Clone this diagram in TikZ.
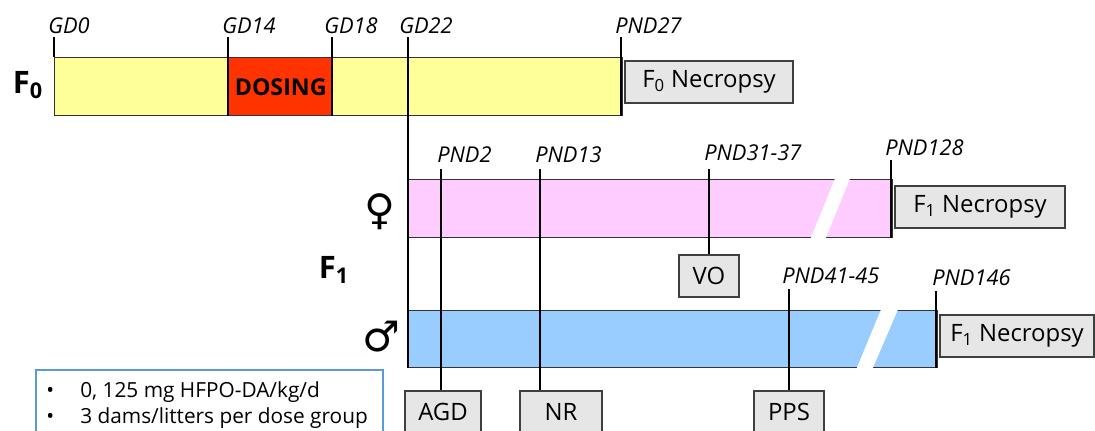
\documentclass[tikz,border=0pt]{standalone}
\usepackage{fontspec}
\setmainfont{Open Sans}
\newfontfamily\symfont{DejaVu Sans}
\usetikzlibrary{positioning}
\definecolor{fyellow}{RGB}{255,255,153}
\definecolor{dosered}{RGB}{255,51,0}
\definecolor{fpink}{RGB}{255,204,255}
\definecolor{fblue}{RGB}{153,204,255}
\definecolor{boxgray}{RGB}{231,230,230}
\definecolor{legendblue}{RGB}{91,155,213}

\begin{document}
\begin{tikzpicture}[x=0.025cm, y=-0.025cm,
        daylabel/.style={font=\fontsize{15.5}{18}\selectfont\itshape, anchor=base west, inner sep=0pt},
        gen/.style={font=\fontsize{22}{26}\selectfont\bfseries, inner sep=0pt},
        bar/.style={draw=black!80, line width=1pt, anchor=north west, minimum height=1.45cm, inner sep=0pt},
        endbox/.style={draw=black!75, fill=boxgray, line width=0.8pt, minimum height=1.05cm, inner sep=0pt, font=\fontsize{17}{20}\selectfont},
        tick/.style={line width=1.4pt}]
        \useasboundingbox (0,0) rectangle (1095,430);
        \node[bar, fill=fyellow, minimum width=14.175cm] (f0bar) at (54,57) {};
        \node[bar, fill=dosered, minimum width=2.6cm, font=\fontsize{16.5}{20}\selectfont\bfseries] (dosing) at (228,57) {DOSING};
        \node[bar, fill=fpink, minimum width=12.075cm] (femalebar) at (408,179) {};
        \node[bar, fill=fblue, minimum width=13.2cm, minimum height=1.425cm] (malebar) at (408,310) {};
        \fill[white] (836,176) -- (851,176) -- (825,240) -- (810,240) -- cycle;
        \fill[white] (882,307) -- (899,307) -- (872,370) -- (856,370) -- cycle;
        \node[endbox, minimum width=4.2cm] (f0nec) at (709,82) {F\textsubscript{0} Necropsy};
        \node[endbox, minimum width=4.25cm] (f1necf) at (980,207) {F\textsubscript{1} Necropsy};
        \node[endbox, minimum width=3.85cm] (f1necm) at (1017,336) {F\textsubscript{1} Necropsy};
        \node[endbox, minimum width=1.5cm] (vo) at (709,276) {VO};
        \node[endbox, minimum width=1.9cm] (agd) at (443,412) {AGD};
        \node[endbox, minimum width=2.05cm] (nr) at (561,412) {NR};
        \node[endbox, minimum width=1.75cm] (pps) at (789,412) {PPS};
        \coordinate (gd0) at (54,37);
        \coordinate (gd14) at (228,37);
        \coordinate (gd18) at (332,37);
        \coordinate (gd22) at (408,37);
        \coordinate (pnd27) at (621,37);
        \coordinate (pnd2) at (441,169);
        \coordinate (pnd13) at (540,169);
        \coordinate (pnd31) at (709,169);
        \coordinate (pnd128) at (891,160);
        \coordinate (pnd41) at (789,289);
        \coordinate (pnd146) at (936,291);
        \draw[tick] (gd0) -- (gd0 |- f0bar.north);
        \draw[tick] (gd14) -- (gd14 |- f0bar.south);
        \draw[tick] (gd18) -- (gd18 |- f0bar.south);
        \draw[tick] (gd22) -- (gd22 |- malebar.south);
        \draw[tick] (pnd27) -- (pnd27 |- f0bar.south);
        \draw[tick] (pnd2) -- (pnd2 |- agd.north);
        \draw[tick] (pnd13) -- (pnd13 |- nr.north);
        \draw[tick] (pnd31) -- (vo.north);
        \draw[tick] (pnd128) -- (pnd128 |- femalebar.south);
        \draw[tick] (pnd41) -- (pps.north);
        \draw[tick] (pnd146) -- (pnd146 |- malebar.south);
        \node[daylabel] (lgd0) at (48,33) {GD0};
        \node[daylabel] (lgd14) at (222,33) {GD14};
        \node[daylabel] (lgd18) at (324,33) {GD18};
        \node[daylabel] (lgd22) at (399,33) {GD22};
        \node[daylabel] (lpnd27) at (615,33) {PND27};
        \node[daylabel] (lpnd2) at (437,162) {PND2};
        \node[daylabel] (lpnd13) at (535,162) {PND13};
        \node[daylabel] (lpnd31) at (704,160) {PND31-37};
        \node[daylabel] (lpnd128) at (885,155) {PND128};
        \node[daylabel] (lpnd41) at (782,283) {PND41-45};
        \node[daylabel] (lpnd146) at (932,285) {PND146};
        \node[gen] (fzero) at (28,85) {F\textsubscript{0}};
        \node[gen] (fone) at (334,270) {F\textsubscript{1}};
        \node[font=\symfont\fontsize{30}{30}\selectfont, inner sep=0pt] (female) at (380,212) {♀};
        \node[font=\symfont\fontsize{30}{30}\selectfont, inner sep=0pt] (male) at (381,337) {♂};
        \draw[legendblue, line width=0.8pt] (36,370) rectangle (383,445);
        \node[anchor=base west, font=\fontsize{14.8}{18}\selectfont, inner sep=0pt] (dose) at (46,397) {\makebox[0.85cm][l]{\textbullet}0, 125 mg HFPO-DA/kg/d};
        \node[anchor=base west, font=\fontsize{14.8}{18}\selectfont, inner sep=0pt] (litters) at (46,423) {\makebox[0.85cm][l]{\textbullet}3 dams/litters per dose group};
    \end{tikzpicture}
\end{document}
